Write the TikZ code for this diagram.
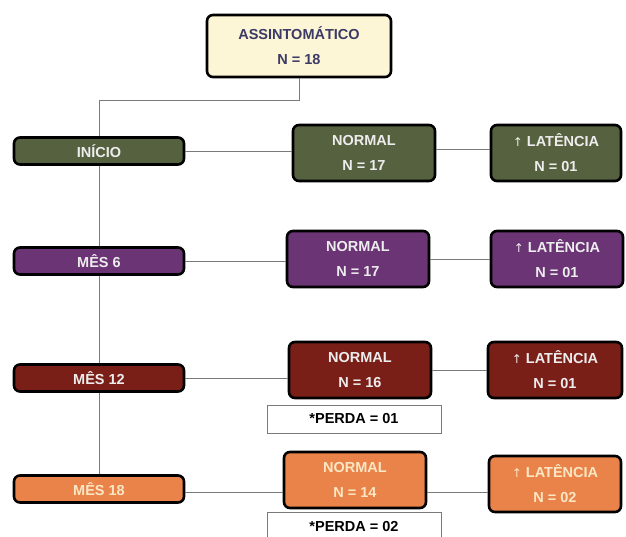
\documentclass[tikz,border=0pt]{standalone}
\usepackage{fontspec}
\setmainfont{Liberation Sans}
\newfontfamily\symfont{DejaVu Sans}
\definecolor{topfill}{HTML}{FCF6D6}
\definecolor{toptext}{HTML}{3C3A66}
\definecolor{cgreen}{HTML}{56613F}
\definecolor{cpurple}{HTML}{6A3475}
\definecolor{cred}{HTML}{7A1F18}
\definecolor{corange}{HTML}{E9834A}
\definecolor{lighttext}{HTML}{EDEDED}
\definecolor{orangetext}{HTML}{FBE7C4}
\definecolor{linkgray}{HTML}{7A7A7A}
\tikzset{
  card/.style={draw=black, line width=2.6pt, rounded corners=6pt,
    font=\fontsize{14.5}{17}\selectfont\bfseries, align=center,
    inner sep=0pt, text=lighttext},
  stagebox/.style={card, minimum width=170pt, minimum height=27pt},
  resultbox/.style={card, minimum width=142pt, minimum height=56pt},
  lossbox/.style={draw=linkgray, line width=0.7pt, fill=white,
    minimum width=174pt, minimum height=28pt, inner sep=0pt,
    font=\fontsize{14.5}{17}\selectfont\bfseries},
  link/.style={draw=linkgray, line width=0.8pt},
}
\newcommand{\upmark}{{\symfont\fontsize{12}{14}\selectfont\mdseries↑}}
\newcommand{\twoline}[2]{#1\\[8pt]#2}
\begin{document}
\begin{tikzpicture}[x=1pt,y=-1pt]
\useasboundingbox (0,0) rectangle (626,536);

% root
\node[card, fill=topfill, text=toptext, minimum width=184pt, minimum height=62pt]
  (root) at (299,46) {\twoline{ASSINTOMÁTICO}{N = 18}};

% stage boxes along the left trunk
\node[stagebox, fill=cgreen]  (s0)  at (99,151) {INÍCIO};
\node[stagebox, fill=cpurple] (s6)  at (99,261) {MÊS 6};
\node[stagebox, fill=cred]    (s12) at (99,378) {MÊS 12};
\node[stagebox, fill=corange, text=orangetext] (s18) at (99,489) {MÊS 18};

% normal results
\node[resultbox, fill=cgreen]  (n0)  at (364,153) {\twoline{NORMAL}{N = 17}};
\node[resultbox, fill=cpurple] (n6)  at (358,259) {\twoline{NORMAL}{N = 17}};
\node[resultbox, fill=cred]    (n12) at (360,370) {\twoline{NORMAL}{N = 16}};
\node[resultbox, fill=corange, text=orangetext] (n18) at (355,480) {\twoline{NORMAL}{N = 14}};

% increased latency results
\node[resultbox, fill=cgreen, minimum width=130pt]  (l0)  at (556,153) {\twoline{\upmark\ LATÊNCIA}{N = 01}};
\node[resultbox, fill=cpurple, minimum width=132pt] (l6)  at (557,259) {\twoline{\upmark\ LATÊNCIA}{N = 01}};
\node[resultbox, fill=cred, minimum width=134pt]    (l12) at (555,370) {\twoline{\upmark\ LATÊNCIA}{N = 01}};
\node[resultbox, fill=corange, text=orangetext, minimum width=132pt] (l18) at (555,484) {\twoline{\upmark\ LATÊNCIA}{N = 02}};

% losses
\node[lossbox] (p12) at (354,419) {*PERDA = 01};
\node[lossbox, anchor=north] (p18) at (354,512) {*PERDA = 02};

% connectors
\coordinate (elbow) at (99,100);
\draw[link] (root.south) -- (root.south |- elbow) -- (elbow) -- (s0.north);
\draw[link] (s0.south) -- (s6.north);
\draw[link] (s6.south) -- (s12.north);
\draw[link] (s12.south) -- (s18.north);

\draw[link] (s0.east) -- (s0.east -| n0.west);
\draw[link] (n0.east |- 0,149) -- (l0.west |- 0,149);
\draw[link] (s6.east) -- (s6.east -| n6.west);
\draw[link] (n6.east) -- (l6.west);
\draw[link] (s12.east) -- (s12.east -| n12.west);
\draw[link] (n12.east) -- (l12.west);
\coordinate (row18) at (0,492);
\draw[link] (s18.east |- row18) -- (n18.west |- row18);
\draw[link] (n18.east |- row18) -- (l18.west |- row18);
\end{tikzpicture}
\end{document}
